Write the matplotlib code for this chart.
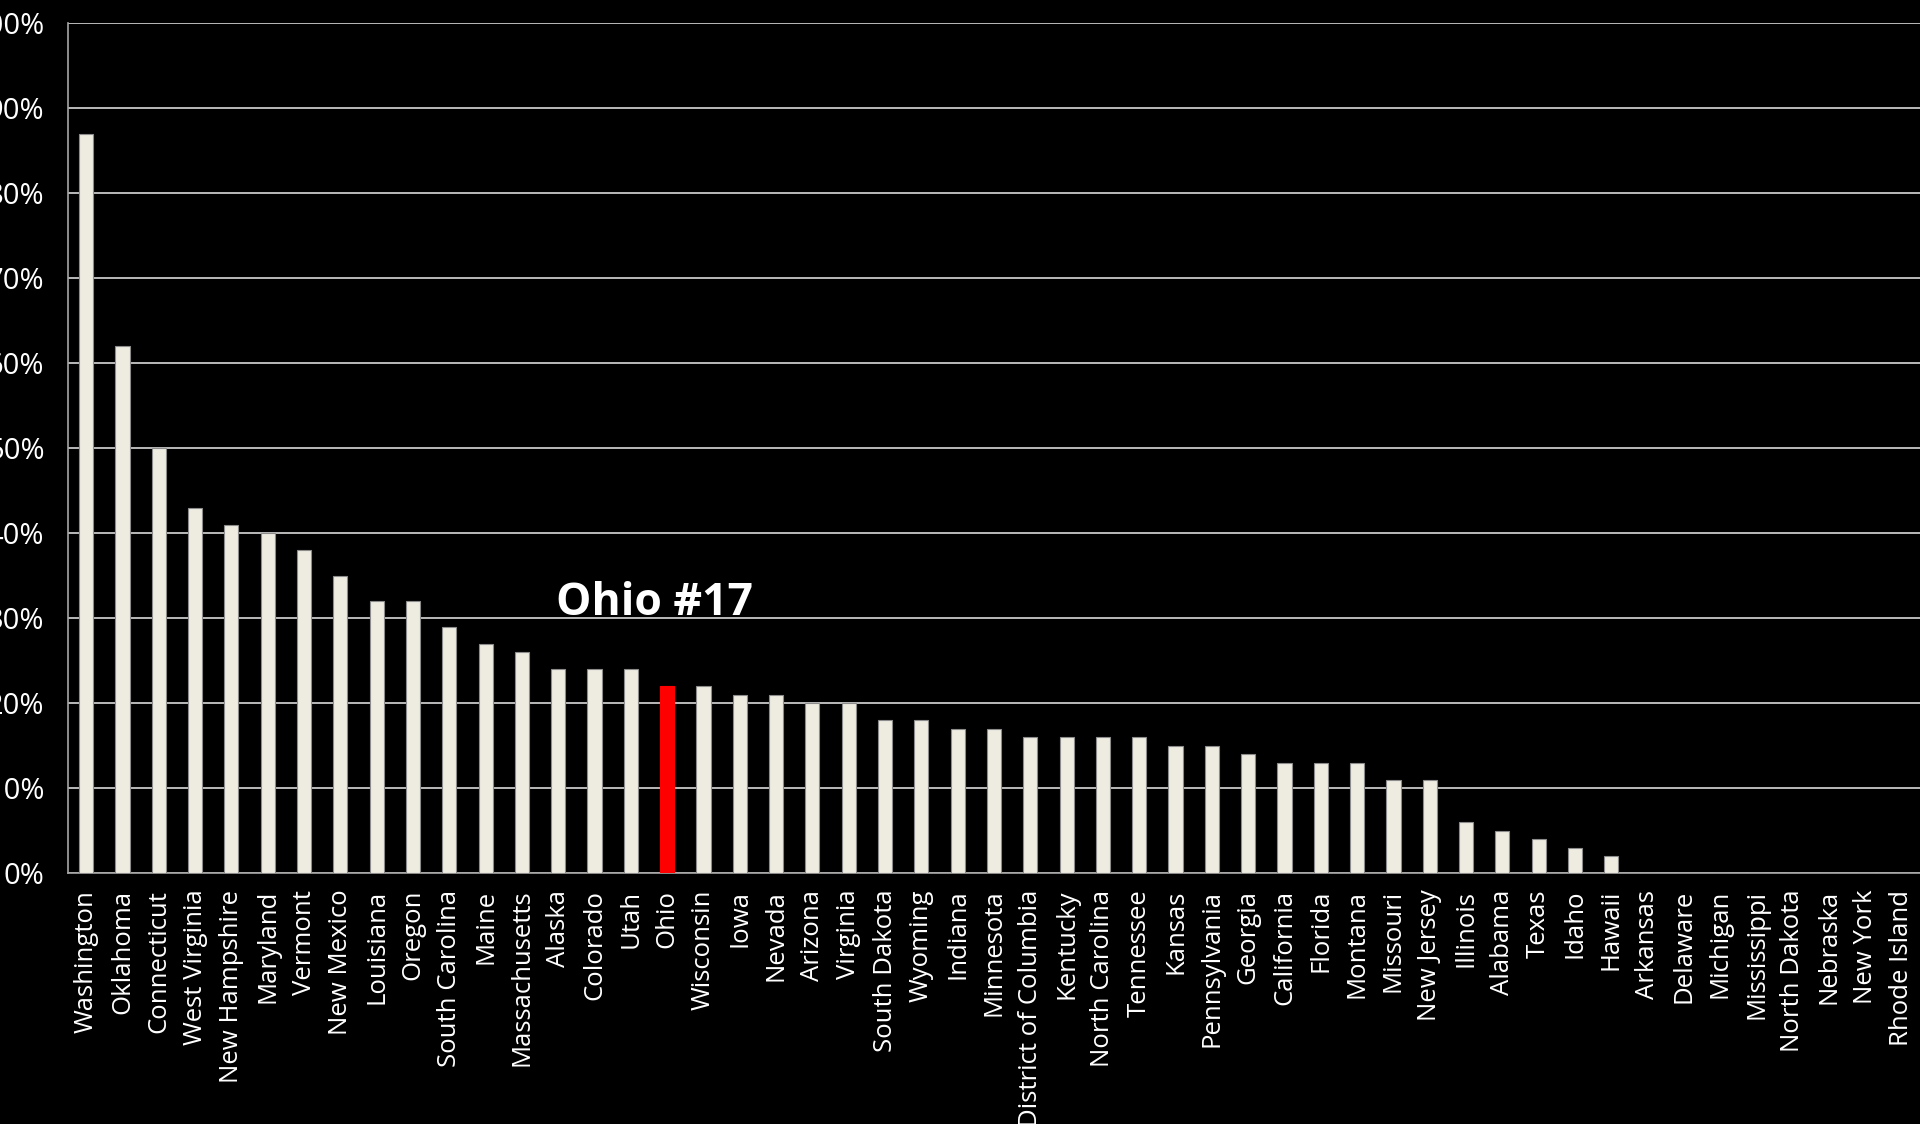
import numpy as np
import matplotlib
matplotlib.use("Agg")
from matplotlib import pyplot as plt

states = ["Washington", "Oklahoma", "Connecticut", "West Virginia", "New Hampshire",
          "Maryland", "Vermont", "New Mexico", "Louisiana", "Oregon", "South Carolina",
          "Maine", "Massachusetts", "Alaska", "Colorado", "Utah", "Ohio", "Wisconsin",
          "Iowa", "Nevada", "Arizona", "Virginia", "South Dakota", "Wyoming", "Indiana",
          "Minnesota", "District of Columbia", "Kentucky", "North Carolina", "Tennessee",
          "Kansas", "Pennsylvania", "Georgia", "California", "Florida", "Montana",
          "Missouri", "New Jersey", "Illinois", "Alabama", "Texas", "Idaho", "Hawaii",
          "Arkansas", "Delaware", "Michigan", "Mississippi", "North Dakota", "Nebraska",
          "New York", "Rhode Island"]
pct = [87, 62, 50, 43, 41, 40, 38, 35, 32, 32, 29, 27, 26, 24, 24, 24, 22, 22,
       21, 21, 20, 20, 18, 18, 17, 17, 16, 16, 16, 16, 15, 15, 14, 13, 13, 13,
       11, 11, 6, 5, 4, 3, 2, 0, 0, 0, 0, 0, 0, 0, 0]
highlight = "Ohio"
y_ticks = list(range(0, 101, 10))

font = "Open Sans"
bar_col = "#EEECE1"
red = "#FF0000"

fig = plt.figure(figsize=(19.2, 11.24), dpi=100, facecolor="black")
ax = fig.add_axes([0.0354, 0.2233, 0.9646, 0.7562])
ax.set_facecolor("black")

x = np.arange(len(states))
colors = [red if s == highlight else bar_col for s in states]
edges = [red if s == highlight else "#8c8c8c" for s in states]
ax.bar(x, pct, width=0.39, color=colors, edgecolor=edges, linewidth=0.8, zorder=3)

ax.set_xlim(-0.5, len(states) - 0.5)
ax.set_ylim(0, 100)
ax.set_yticks(y_ticks)
ax.set_yticklabels([f"{v}%" for v in y_ticks], fontsize=21, color="white", fontfamily=font)
ax.yaxis.grid(True, color="#d9d9d9", linewidth=1.2, zorder=1)
ax.set_xticks(x)
ax.set_xticklabels(states, rotation=90, fontsize=18.5, color="white", fontfamily=font,
                   va="top", ha="center")
ax.tick_params(axis="both", length=0)
ax.tick_params(axis="x", pad=12)
ax.tick_params(axis="y", pad=17)

for side in ["top", "right"]:
    ax.spines[side].set_visible(False)
ax.spines["left"].set_color("#a6a6a6")
ax.spines["bottom"].set_color("#a6a6a6")
ax.spines["left"].set_linewidth(1.2)
ax.spines["bottom"].set_linewidth(1.2)

ax.text(states.index(highlight) - 0.35, 30.4, "Ohio #17", color="white", fontsize=32,
        fontweight="bold", fontfamily=font, ha="center", va="baseline", zorder=4)

fig.savefig("out.png", dpi=100, facecolor="black")
